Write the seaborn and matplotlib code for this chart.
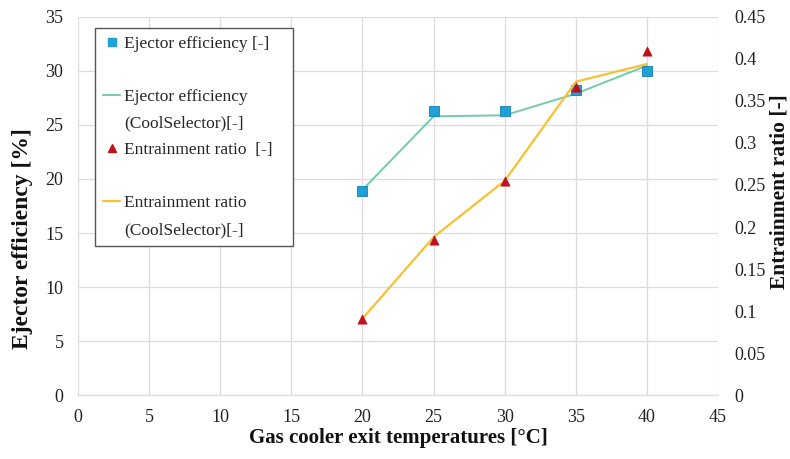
import matplotlib
matplotlib.use("Agg")
import matplotlib.pyplot as plt
from matplotlib.lines import Line2D
import seaborn as sns
import pandas as pd

# Gas cooler exit temperature [°C]
temps = [20, 25, 30, 35, 40]
# Measured ejector efficiency [%]
eff_measured = [18.9, 26.3, 26.3, 28.2, 30.0]
# Ejector efficiency from CoolSelector [%]
eff_coolselector = [19.0, 25.8, 25.9, 27.9, 30.5]
# Measured entrainment ratio [-]
er_measured = [0.091, 0.185, 0.255, 0.367, 0.410]
# Entrainment ratio from CoolSelector [-]
er_coolselector = [0.091, 0.188, 0.255, 0.373, 0.394]

x_ticks = [0, 5, 10, 15, 20, 25, 30, 35, 40, 45]
y_left_ticks = [0, 5, 10, 15, 20, 25, 30, 35]
y_right_ticks = [0, 0.05, 0.1, 0.15, 0.2, 0.25, 0.3, 0.35, 0.4, 0.45]
y_right_labels = ["0", "0.05", "0.1", "0.15", "0.2", "0.25", "0.3", "0.35", "0.4", "0.45"]

df = pd.DataFrame({
    "T": temps,
    "eff": eff_measured,
    "eff_cs": eff_coolselector,
    "er": er_measured,
    "er_cs": er_coolselector,
})

sns.set_style("white")
plt.rcParams["font.family"] = ["Liberation Serif", "DejaVu Serif"]

GREEN = "#72cbaa"
YELLOW = "#f7c131"
BLUE = "#1ea1d9"
RED = "#c0101a"
GRID = "#dcdcdc"

fig = plt.figure(figsize=(7.9, 4.59), dpi=100)
ax = fig.add_axes([0.0987, 0.1394, 0.8103, 0.8236])
ax2 = ax.twinx()

# left axis: ejector efficiency
sns.lineplot(data=df, x="T", y="eff_cs", ax=ax, color=GREEN, linewidth=1.4, zorder=3)
sns.scatterplot(data=df, x="T", y="eff", ax=ax, color=BLUE, marker="s", s=45,
                edgecolor="#1580b0", linewidth=0.6, zorder=4)

# right axis: entrainment ratio
sns.lineplot(data=df, x="T", y="er_cs", ax=ax2, color=YELLOW, linewidth=1.6, zorder=3)
sns.scatterplot(data=df, x="T", y="er", ax=ax2, color=RED, marker="^", s=45,
                edgecolor=RED, linewidth=0.4, zorder=4)

ax.set_xlim(0, 45)
ax.set_ylim(0, 35)
ax2.set_ylim(0, 0.45)
ax.set_xticks(x_ticks)
ax.set_yticks(y_left_ticks)
ax2.set_yticks(y_right_ticks)
ax2.set_yticklabels(y_right_labels)

ax.grid(True, color=GRID, linewidth=0.9)
ax.set_axisbelow(True)
ax2.grid(False)

for a in (ax, ax2):
    for side in ("top", "left", "right"):
        a.spines[side].set_visible(False)
    a.spines["bottom"].set_color(GRID)
    a.tick_params(length=0, labelsize=13, colors="#222222")
ax.tick_params(axis="y", pad=10.5)
ax.tick_params(axis="x", pad=10)
ax2.tick_params(axis="y", pad=12)

ax.set_xlabel("Gas cooler exit temperatures [°C]", fontsize=15, fontweight="bold", color="#111111")
ax.set_ylabel("Ejector efficiency [%]", fontsize=17, fontweight="bold", color="#111111")
ax2.set_ylabel("Entrainment ratio [-]", fontsize=15.5, fontweight="bold", color="#111111")
ax.xaxis.set_label_coords(0.5, -0.088)
ax.yaxis.set_label_coords(-0.07, 0.415)
ax2.yaxis.set_label_coords(1.081, 0.537)

# legend: one handle per text row so handles sit beside the first line
blank = Line2D([], [], linestyle="none")
handles = [
    Line2D([], [], linestyle="none", marker="s", markersize=6, color=BLUE),
    blank,
    Line2D([], [], color=GREEN, linewidth=1.4),
    blank,
    Line2D([], [], linestyle="none", marker="^", markersize=6, color=RED),
    blank,
    Line2D([], [], color=YELLOW, linewidth=1.6),
    blank,
]
labels = [
    "Ejector efficiency [-]", " ",
    "Ejector efficiency", "(CoolSelector)[-]",
    "Entrainment ratio  [-]", " ",
    "Entrainment ratio", "(CoolSelector)[-]",
]
leg = ax2.legend(handles, labels, loc="upper left", mode="expand",
                 bbox_to_anchor=(0.027, 0.0, 0.309, 0.971),
                 frameon=True, fancybox=False, fontsize=12.5, labelspacing=0.6,
                 handlelength=1.0, handletextpad=0.2, borderpad=0.45,
                 borderaxespad=0.0)
leg.get_frame().set_edgecolor("#555555")
leg.get_frame().set_linewidth(1.0)
leg.get_frame().set_facecolor("white")
leg.get_frame().set_alpha(1.0)

fig.savefig("out.png", dpi=100)
